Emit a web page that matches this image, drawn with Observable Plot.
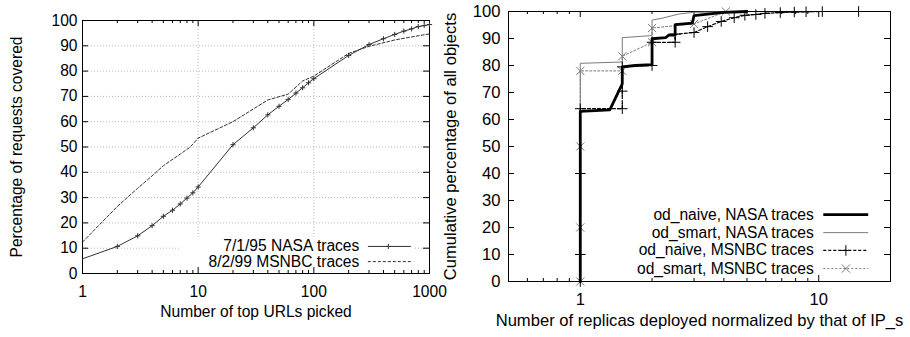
<!DOCTYPE html>
<html><head><meta charset="utf-8">
<script src="https://cdn.jsdelivr.net/npm/d3@7"></script>
<script src="https://cdn.jsdelivr.net/npm/@observablehq/plot@0.6"></script>
<style>
body{margin:0;background:#fff;}
#wrap{position:relative;width:910px;height:337px;overflow:hidden;background:#fff;}
#left,#right{position:absolute;top:0;}
#left{left:0;}
#right{left:440px;}
svg{overflow:visible;}
</style></head><body><div id="wrap"><div id="left"></div><div id="right"></div></div>
<script>
// ---------- LEFT PANEL DATA ----------
const nasaX = [1,2,3,4,5,6,7,8,9,10,20,30,40,50,60,70,80,90,100,200,300,400,500,600,700,800,900,1000];
const nasaY = [5.8,10.7,14.9,18.9,22.6,25.0,27.5,29.8,31.9,34.2,50.9,57.6,62.7,66.1,68.8,71.3,73.4,75.4,77.0,86.2,90.5,92.8,94.5,95.8,96.7,97.6,98.0,98.4];
const msnbcX = [1,2,3,4,5,7,8.5,10,20,40,60,80,100,200,300,500,700,1000];
const msnbcY = [12.4,26.5,33.7,38.6,42.6,47.2,49.9,53.5,60.0,68.6,70.9,76.1,78.0,87.0,89.8,92.3,93.5,94.7];
const leftXTicks = [1,10,100,1000];
const leftXMinor = [2,3,4,5,6,7,8,9,20,30,40,50,60,70,80,90,200,300,400,500,600,700,800,900];
const leftYTicks = [0,10,20,30,40,50,60,70,80,90,100];
const leftGridX = [10,100];
const leftGridY = [10,20,30,40,50,60,70,80,90];
const leftLegendLabels = ["7/1/95 NASA traces","8/2/99 MSNBC traces"];

// ---------- RIGHT PANEL DATA ----------
const naiveNasaX = [1,1,1.33,1.5,1.5,1.7,2,2,2.28,2.36,2.5,2.5,2.95,3,3.5,4,5];
const naiveNasaY = [0,63,63.6,73.2,79.5,80,80.3,89.9,90.3,91.3,91.3,95.1,95.7,98.5,99.1,99.7,100];
const smartNasaX = [1,1,1.5,1.5,2,2,2.2,2.6,3,5];
const smartNasaY = [0,80.8,81.3,90.3,91.1,96.8,97.5,99.1,99.7,100];
const naiveMsnbcX = [1,1,1,1,1.5,1.5,1.5,2,2,2.5,2.5,3,3.42,3.9,4.42,4.9,5.45,5.95,6.9,7.9,8.85,10.35,14.7,20];
const naiveMsnbcY = [0,10,40,64,64,70.5,79.5,80,88.6,88.6,91.6,92.2,94.4,96.3,97.7,98.6,98.9,99.3,99.6,99.8,99.9,100,100,100];
const smartMsnbcX = [1,1,1,1,1.5,1.5,2,2,3,4.08];
const smartMsnbcY = [0,20,50,78,78,83.4,88.6,93.9,95.4,100];
const rightXTicks = [1,10];
const rightXMinor = [0.6,0.7,0.8,0.9,2,3,4,5,6,7,8,9];
const rightYTicks = [0,10,20,30,40,50,60,70,80,90,100];
const rightLegendLabels = ["od_naive, NASA traces","od_smart, NASA traces","od_naive, MSNBC traces","od_smart, MSNBC traces"];

const zip = (xs, ys) => xs.map((x, i) => ({x, y: ys[i]}));

function frameTicks(xMajor, xMinor, yMajor, fw, fh) {
  const L = 6, l = 3;
  return [
    Plot.tickX(xMajor, {x: d => d, insetTop: fh - L, stroke: "black"}),
    Plot.tickX(xMajor, {x: d => d, insetBottom: fh - L, stroke: "black"}),
    Plot.tickX(xMinor, {x: d => d, insetTop: fh - l, stroke: "black"}),
    Plot.tickX(xMinor, {x: d => d, insetBottom: fh - l, stroke: "black"}),
    Plot.tickY(yMajor, {y: d => d, insetRight: fw - L, stroke: "black"}),
    Plot.tickY(yMajor, {y: d => d, insetLeft: fw - L, stroke: "black"})
  ];
}

// ---------- LEFT PLOT ----------
{
  const W = 440, H = 337, mL = 82, mR = 11, mT = 20, mB = 64;
  const fw = W - mL - mR, fh = H - mT - mB;
  const nasa = zip(nasaX, nasaY);
  const msnbc = zip(msnbcX, msnbcY);
  const legY = [10.7, 4.7];
  const lineColor = "#333";
  const p = Plot.plot({
    width: W, height: H, marginLeft: mL, marginRight: mR, marginTop: mT, marginBottom: mB,
    style: {fontFamily: "'Liberation Sans', Arial, sans-serif", fontSize: "15.6px", color: "black", background: "transparent", overflow: "visible"},
    x: {type: "log", domain: [1, 1000]},
    y: {domain: [0, 100]},
    marks: [
      Plot.ruleY(leftGridY, {y: d => d, stroke: "#b8b8b8", strokeDasharray: "1,2"}),
      Plot.ruleX(leftGridX, {x: d => d, stroke: "#b8b8b8", strokeDasharray: "1,2"}),
      Plot.rect([0], {x1: 7.0, x2: 726, y1: 0, y2: 14.2, fill: "white"}),
      Plot.frame({stroke: "black"}),
      ...frameTicks(leftXTicks, leftXMinor, leftYTicks, fw, fh),
      Plot.axisX(leftXTicks, {anchor: "bottom", tickSize: 0, tickPadding: 12, tickFormat: d => String(d),
        label: "Number of top URLs picked", labelAnchor: "center", labelArrow: "none", labelOffset: 43}),
      Plot.axisY(leftYTicks, {anchor: "left", tickSize: 0, tickPadding: 5, tickFormat: d => String(d),
        label: "Percentage of requests covered", labelAnchor: "center", labelArrow: "none", labelOffset: 72}),
      Plot.line(msnbc, {x: "x", y: "y", stroke: lineColor, strokeWidth: 1, strokeDasharray: "3,2"}),
      Plot.line(nasa, {x: "x", y: "y", stroke: lineColor, strokeWidth: 1}),
      Plot.dot(nasa.slice(1), {x: "x", y: "y", symbol: "plus", r: 1.8, stroke: lineColor, strokeWidth: 1}),
      // legend
      Plot.text([leftLegendLabels[0]], {x: 296, y: legY[0], text: d => d, textAnchor: "end", dx: -9, fill: "black"}),
      Plot.text([leftLegendLabels[1]], {x: 296, y: legY[1], text: d => d, textAnchor: "end", dx: -9, fill: "black"}),
      Plot.ruleY([legY[0]], {y: d => d, x1: 296, x2: 697, stroke: lineColor, strokeWidth: 1}),
      Plot.dot([legY[0]], {x: 441, y: d => d, symbol: "plus", r: 1.8, stroke: lineColor, strokeWidth: 1}),
      Plot.ruleY([legY[1]], {y: d => d, x1: 296, x2: 697, stroke: lineColor, strokeWidth: 1, strokeDasharray: "3,2"})
    ]
  });
  document.getElementById("left").appendChild(p);
}

// ---------- RIGHT PLOT ----------
{
  const W = 470, H = 337, mL = 68, mR = 20, mT = 11, mB = 56;
  const fw = W - mL - mR, fh = H - mT - mB;
  const naiveNasa = zip(naiveNasaX, naiveNasaY);
  const smartNasa = zip(smartNasaX, smartNasaY);
  const naiveMsnbc = zip(naiveMsnbcX, naiveMsnbcY);
  const smartMsnbc = zip(smartMsnbcX, smartMsnbcY);
  const legY = [24.8, 18.1, 11.5, 4.8];
  const lx1 = 10.5, lx2 = 16.2, lxm = 13.0;
  const gray = "#7a7a7a";
  const p = Plot.plot({
    width: W, height: H, marginLeft: mL, marginRight: mR, marginTop: mT, marginBottom: mB,
    style: {fontFamily: "'Liberation Sans', Arial, sans-serif", fontSize: "16.6px", color: "black", background: "transparent", overflow: "visible"},
    x: {type: "log", domain: [0.5, 20]},
    y: {domain: [0, 100]},
    marks: [
      Plot.frame({stroke: "black"}),
      ...frameTicks(rightXTicks, rightXMinor, rightYTicks, fw, fh),
      Plot.axisX(rightXTicks, {anchor: "bottom", tickSize: 0, tickPadding: 12, tickFormat: d => String(d),
        label: "Number of replicas deployed normalized by that of IP_s", labelAnchor: "center", labelArrow: "none", labelOffset: 44}),
      Plot.axisY(rightYTicks, {anchor: "left", tickSize: 0, tickPadding: 8, tickFormat: d => String(d),
        label: "Cumulative percentage of all objects", labelAnchor: "center", labelArrow: "none", labelOffset: 64}),
      Plot.line(smartMsnbc, {x: "x", y: "y", stroke: gray, strokeWidth: 1, strokeDasharray: "2,2"}),
      Plot.dot(smartMsnbc, {x: "x", y: "y", symbol: "times", r: 3.8, stroke: gray, strokeWidth: 1}),
      Plot.line(smartNasa, {x: "x", y: "y", stroke: gray, strokeWidth: 1}),
      Plot.line(naiveMsnbc, {x: "x", y: "y", stroke: "black", strokeWidth: 1.2, strokeDasharray: "3,2"}),
      Plot.dot(naiveMsnbc.filter(d => d.x < 20), {x: "x", y: "y", symbol: "plus", r: 3.5, stroke: "black", strokeWidth: 1}),
      Plot.line(naiveNasa, {x: "x", y: "y", stroke: "black", strokeWidth: 2.8}),
      // legend
      ...rightLegendLabels.map((t, i) => Plot.text([t], {x: lx1, y: legY[i], text: d => d, textAnchor: "end", dx: -10, fill: "black", fontSize: 15.6})),
      Plot.ruleY([legY[0]], {y: d => d, x1: lx1, x2: lx2, stroke: "black", strokeWidth: 2.8}),
      Plot.ruleY([legY[1]], {y: d => d, x1: lx1, x2: lx2, stroke: gray, strokeWidth: 1}),
      Plot.ruleY([legY[2]], {y: d => d, x1: lx1, x2: lx2, stroke: "black", strokeWidth: 1.2, strokeDasharray: "3,2"}),
      Plot.dot([legY[2]], {x: lxm, y: d => d, symbol: "plus", r: 3.5, stroke: "black", strokeWidth: 1}),
      Plot.ruleY([legY[3]], {y: d => d, x1: lx1, x2: lx2, stroke: gray, strokeWidth: 1, strokeDasharray: "2,2"}),
      Plot.dot([legY[3]], {x: lxm, y: d => d, symbol: "times", r: 3.8, stroke: gray, strokeWidth: 1})
    ]
  });
  document.getElementById("right").appendChild(p);
}
</script>
</body></html>
